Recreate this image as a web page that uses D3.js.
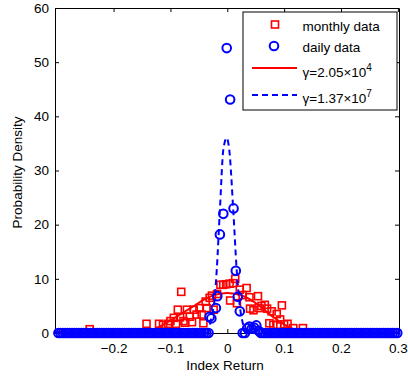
<!DOCTYPE html>
<html>
<head>
<meta charset="utf-8">
<script src="https://cdn.jsdelivr.net/npm/d3@7"></script>
<style>
  body { margin: 0; background: #fff; }
  svg { display: block; font-family: "Liberation Sans", Arial, sans-serif; }
</style>
</head>
<body>
<div id="chart"></div>
<script>
// monthly data (red squares)
const monthlyX = [-0.242, -0.142, -0.120, -0.113, -0.104, -0.100, -0.094, -0.090, -0.087, -0.083,
    -0.081, -0.077, -0.074, -0.071, -0.066, -0.062, -0.059, -0.054, -0.049, -0.045,
    -0.042, -0.038, -0.036, -0.031, -0.027, -0.024, -0.018, -0.012, -0.007, -0.002,
    0.004, 0.005, 0.010, 0.014, 0.017, 0.022, 0.027, 0.034, 0.039, 0.040,
    0.046, 0.054, 0.055, 0.060, 0.066, 0.070, 0.074, 0.078, 0.081, 0.087,
    0.088, 0.093, 0.096, 0.100, 0.106, 0.116, 0.133]
const monthlyY = [0.7, 1.7, 1.7, 1.5, 1.7, 2.2, 2.8, 1.7, 4.3, 2.9,
    7.6, 2.2, 1.9, 4.3, 3.0, 2.0, 4.3, 3.4, 4.6, 3.4,
    1.8, 5.8, 4.6, 6.5, 6.9, 4.3, 7.2, 8.9, 8.9, 9.0,
    9.1, 6.0, 9.2, 10.0, 5.5, 8.0, 7.0, 8.3, 6.6, 4.5,
    4.2, 6.8, 4.6, 5.0, 5.2, 4.5, 1.8, 4.0, 1.5, 3.5,
    1.5, 2.5, 5.1, 1.6, 1.7, 0.9, 0.9]

// daily data (blue circles): left tail, centre, right tail
const dailyLeftX = [-0.297, -0.293, -0.289, -0.285, -0.281, -0.277, -0.273, -0.269, -0.265, -0.261,
    -0.257, -0.253, -0.249, -0.245, -0.241, -0.237, -0.233, -0.229, -0.225, -0.221,
    -0.217, -0.213, -0.209, -0.205, -0.201, -0.197, -0.193, -0.189, -0.185, -0.181,
    -0.177, -0.173, -0.169, -0.165, -0.161, -0.157, -0.153, -0.149, -0.145, -0.141,
    -0.137, -0.133, -0.129, -0.125, -0.121, -0.117, -0.113, -0.109, -0.105, -0.101,
    -0.097, -0.093, -0.089, -0.085, -0.081, -0.077, -0.073, -0.069, -0.065, -0.061,
    -0.057, -0.053, -0.049, -0.045, -0.041, -0.037, -0.033]
const dailyLeftY = [0, 0, 0, 0, 0, 0, 0, 0, 0, 0,
    0, 0, 0, 0, 0, 0, 0, 0, 0, 0,
    0, 0, 0, 0, 0, 0, 0, 0, 0, 0,
    0, 0, 0, 0, 0, 0, 0, 0, 0, 0,
    0, 0, 0, 0, 0, 0, 0, 0, 0, 0,
    0, 0, 0, 0, 0, 0, 0, 0, 0, 0,
    0, 0, 0, 0, 0, 0, 0]
const dailyCenterX = [-0.031, -0.028, -0.020, -0.0175, -0.013, -0.007, -0.001, 0.005, 0.011, 0.015, 0.0185, 0.022]
const dailyCenterY = [3.0, 2.7, 4.6, 6.8, 18.2, 22.0, 52.6, 43.1, 23.0, 11.5, 6.7, 4.0]
const dailyRightX = [0.027, 0.031, 0.035, 0.039, 0.043, 0.047, 0.051, 0.055, 0.059, 0.063,
    0.067, 0.071, 0.075, 0.079, 0.083, 0.087, 0.091, 0.095, 0.099, 0.103,
    0.107, 0.111, 0.115, 0.119, 0.123, 0.127, 0.131, 0.135, 0.139, 0.143,
    0.147, 0.151, 0.155, 0.159, 0.163, 0.167, 0.171, 0.175, 0.179, 0.183,
    0.187, 0.191, 0.195, 0.199, 0.203, 0.207, 0.211, 0.215, 0.219, 0.223,
    0.227, 0.231, 0.235, 0.239, 0.243, 0.247, 0.251, 0.255, 0.259, 0.263,
    0.267, 0.271, 0.275, 0.279, 0.283, 0.287, 0.291, 0.295, 0.299]
const dailyRightY = [0, 0, 0.9, 1.2, 0.8, 1.0, 1.4, 0.4, 0, 0,
    0, 0, 0, 0, 0, 0, 0, 0, 0, 0,
    0, 0, 0, 0, 0, 0, 0, 0, 0, 0,
    0, 0, 0, 0, 0, 0, 0, 0, 0, 0,
    0, 0, 0, 0, 0, 0, 0, 0, 0, 0,
    0, 0, 0, 0, 0, 0, 0, 0, 0, 0,
    0, 0, 0, 0, 0, 0, 0, 0, 0]

// fitted curves
const fitMonthlyX = [-0.3, -0.2, -0.15, -0.13, -0.12, -0.1, -0.08, -0.06, -0.04, -0.02, 0,
    0.02, 0.04, 0.06, 0.08, 0.1, 0.12, 0.13, 0.15, 0.2, 0.3]
const fitMonthlyY = [0.2, 0.2, 0.3, 0.6, 1.1, 2.3, 3.6, 4.9, 6.2, 7.1, 7.4,
    7.1, 6.2, 4.7, 3.0, 1.6, 0.6, 0.4, 0.25, 0.2, 0.2]
const fitDailyX = [-0.3, -0.034, -0.028, -0.022, -0.0185, -0.013, -0.007, -0.001,
    0.0035, 0.0105, 0.0165, 0.022, 0.028, 0.032, 0.3]
const fitDailyY = [0, 0, 3, 6.5, 11.7, 22.7, 33.8, 36, 33.8, 22.7, 11.7, 5.0, 1.5, 0, 0]

const xTicks = [-0.2, -0.1, 0, 0.1, 0.2, 0.3]
const yTicks = [0, 10, 20, 30, 40, 50, 60]

const legendLabels = [
    {text: "monthly data"},
    {text: "daily data"},
    {text: "\u03b3=2.05\u00d710", sup: "4"},
    {text: "\u03b3=1.37\u00d710", sup: "7"}
]

const margins = {top: 8, right: 9, bottom: 43, left: 55, width: 408, height: 376};
const fontSize = 13.5

const svg = d3.select('#chart')
    .append('svg')
    .attr('width', margins.width)
    .attr('height', margins.height)

const x = d3.scaleLinear()
    .domain([-0.303, 0.302])
    .range([margins.left, margins.width - margins.right]);

const y = d3.scaleLinear()
    .domain([0, 60])
    .range([margins.height - margins.bottom, margins.top]);

const plotBottom = margins.height - margins.bottom
const plotRight = margins.width - margins.right

svg.append("rect")
    .attr("x", margins.left)
    .attr("y", margins.top)
    .attr("width", plotRight - margins.left)
    .attr("height", plotBottom - margins.top)
    .attr("fill", "white")

// axes, MATLAB style: ticks inside, box all round
svg.append("g")
    .attr("transform", "translate(0," + plotBottom + ")")
    .call(d3.axisBottom(x).tickValues(xTicks).tickSizeInner(-4).tickSizeOuter(0).tickPadding(10)
        .tickFormat(d => d === 0 ? "0" : d3.format(".1f")(d)))
    .call(g => g.selectAll("text").style("font-size", fontSize + "px").attr("fill", "#000"))

svg.append("g")
    .attr("transform", "translate(0," + margins.top + ")")
    .call(d3.axisTop(x).tickValues(xTicks).tickSizeInner(-4).tickSizeOuter(0).tickFormat(""))

svg.append("g")
    .attr("transform", "translate(" + margins.left + ",0)")
    .call(d3.axisLeft(y).tickValues(yTicks).tickSizeInner(-4).tickSizeOuter(0).tickPadding(6))
    .call(g => g.selectAll("text").style("font-size", fontSize + "px").attr("fill", "#000"))

svg.append("g")
    .attr("transform", "translate(" + plotRight + ",0)")
    .call(d3.axisRight(y).tickValues(yTicks).tickSizeInner(-4).tickSizeOuter(0).tickFormat(""))

svg.selectAll(".domain, .tick line").attr("stroke", "#000")

// axis titles
svg.append("text")
    .attr("x", (margins.left + plotRight) / 2 - 2)
    .attr("y", 370)
    .attr("text-anchor", "middle")
    .style("font-size", fontSize + "px")
    .text("Index Return")

svg.append("text")
    .attr("transform", "translate(22," + ((margins.top + plotBottom) / 2 + 2) + ") rotate(-90)")
    .attr("text-anchor", "middle")
    .style("font-size", fontSize + "px")
    .text("Probability Density")

// data
const monthly = d3.zip(monthlyX, monthlyY)
const daily = d3.zip(dailyLeftX, dailyLeftY)
    .concat(d3.zip(dailyCenterX, dailyCenterY))
    .concat(d3.zip(dailyRightX, dailyRightY))
const sq = 7

svg.append("g")
    .selectAll("rect")
    .data(monthly)
    .enter().append("rect")
    .attr("x", d => x(d[0]) - sq / 2)
    .attr("y", d => y(d[1]) - sq / 2)
    .attr("width", sq)
    .attr("height", sq)
    .attr("fill", "none")
    .attr("stroke", "#ff0000")
    .attr("stroke-width", 1.6)

const line = d3.line()
    .x(d => x(d[0]))
    .y(d => y(d[1]))
    .curve(d3.curveMonotoneX)

svg.append("path")
    .datum(d3.zip(fitMonthlyX, fitMonthlyY))
    .attr("d", line)
    .attr("fill", "none")
    .attr("stroke", "#ff0000")
    .attr("stroke-width", 2)

svg.append("g")
    .selectAll("circle")
    .data(daily)
    .enter().append("circle")
    .attr("cx", d => x(d[0]))
    .attr("cy", d => y(d[1]))
    .attr("r", 4.3)
    .attr("fill", "none")
    .attr("stroke", "#0000ff")
    .attr("stroke-width", 2)

svg.append("path")
    .datum(d3.zip(fitDailyX, fitDailyY))
    .attr("d", line)
    .attr("fill", "none")
    .attr("stroke", "#0000ff")
    .attr("stroke-width", 2)
    .attr("stroke-dasharray", "6,4")

// legend
const legend = svg.append("g")
legend.append("rect")
    .attr("x", 243)
    .attr("y", 12)
    .attr("width", 154)
    .attr("height", 98)
    .attr("fill", "white")
    .attr("stroke", "#000")
    .attr("stroke-width", 1)

const rowY = [24.5, 46, 68, 95]
const textY = [30.5, 52, 76.5, 102.5]

legend.append("rect")
    .attr("x", 275 - sq / 2).attr("y", rowY[0] - sq / 2)
    .attr("width", sq).attr("height", sq)
    .attr("fill", "none").attr("stroke", "#ff0000").attr("stroke-width", 1.6)

legend.append("circle")
    .attr("cx", 274).attr("cy", rowY[1]).attr("r", 4.3)
    .attr("fill", "none").attr("stroke", "#0000ff").attr("stroke-width", 2)

legend.append("line")
    .attr("x1", 252).attr("x2", 297).attr("y1", rowY[2]).attr("y2", rowY[2])
    .attr("stroke", "#ff0000").attr("stroke-width", 2)

legend.append("line")
    .attr("x1", 252).attr("x2", 297).attr("y1", rowY[3]).attr("y2", rowY[3])
    .attr("stroke", "#0000ff").attr("stroke-width", 2).attr("stroke-dasharray", "6,4")

legendLabels.forEach((l, i) => {
    const t = legend.append("text")
        .attr("x", 302.5)
        .attr("y", textY[i])
        .style("font-size", fontSize + "px")
        .text(l.text)
    if (l.sup) {
        t.append("tspan")
            .attr("dy", -6)
            .style("font-size", "10px")
            .text(l.sup)
    }
})
</script>
</body>
</html>
